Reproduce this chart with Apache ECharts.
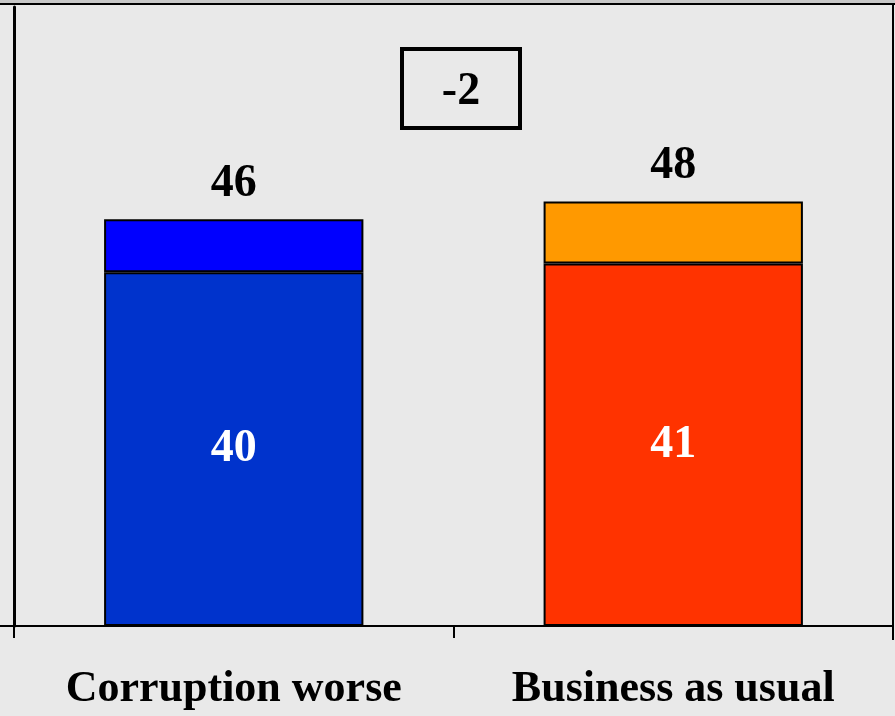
<!DOCTYPE html>
<html>
<head>
<meta charset="utf-8">
<script src="https://cdn.jsdelivr.net/npm/echarts@6/dist/echarts.min.js"></script>
<style>html,body{margin:0;padding:0;background:#e9e9e9;}#c{width:895px;height:716px;}</style>
</head>
<body>
<div id="c"></div>
<script>
var categories = ['Corruption worse', 'Business as usual'];
var baseValues = [40, 41];
var topValues = [6, 7];
var totals = [46, 48];
var baseColors = ['#0033cc', '#ff3300'];
var topColors = ['#0000ff', '#ff9900'];
var differenceLabel = '-2';

var font = '"Liberation Serif", "Times New Roman", serif';
var chart = echarts.init(document.getElementById('c'));
chart.setOption({
  backgroundColor: '#e9e9e9',
  animation: false,
  grid: {left: 14, right: 2, top: 7, bottom: 90},
  xAxis: {
    type: 'category',
    data: categories,
    axisLine: {lineStyle: {color: '#000', width: 2}},
    axisTick: {show: true, length: 12, lineStyle: {color: '#000', width: 2}},
    axisLabel: {color: '#000', fontFamily: font, fontWeight: 'bold', fontSize: 44, margin: 42}
  },
  yAxis: {
    type: 'value', min: 0, max: 70,
    axisLine: {show: true, lineStyle: {color: '#000', width: 3}},
    axisTick: {show: false}, axisLabel: {show: false}, splitLine: {show: false}
  },
  series: [
    {
      type: 'bar', stack: 's', barWidth: '59%',
      data: baseValues.map(function (v, i) { return {value: v, itemStyle: {color: baseColors[i]}}; }),
      itemStyle: {borderColor: '#000', borderWidth: 2},
      label: {show: true, position: 'inside', color: '#fff', fontFamily: font, fontWeight: 'bold', fontSize: 46}
    },
    {
      type: 'bar', stack: 's', barWidth: '59%',
      data: topValues.map(function (v, i) { return {value: v, itemStyle: {color: topColors[i]}}; }),
      itemStyle: {borderColor: '#000', borderWidth: 2},
      label: {show: true, position: 'top', distance: 12, color: '#000', fontFamily: font, fontWeight: 'bold', fontSize: 46,
        formatter: function (p) { return String(totals[p.dataIndex]); }}
    }
  ],
  graphic: [
    {type: 'rect', shape: {x: 0, y: 0, width: 895, height: 3}, style: {fill: '#c8c8c8'}, silent: true},
    {type: 'line', shape: {x1: 0, y1: 4, x2: 895, y2: 4}, style: {stroke: '#000', lineWidth: 2}, silent: true},
    {type: 'line', shape: {x1: 893, y1: 4, x2: 893, y2: 640}, style: {stroke: '#000', lineWidth: 2}, silent: true},
    {type: 'line', shape: {x1: 0, y1: 626, x2: 14, y2: 626}, style: {stroke: '#000', lineWidth: 2}, silent: true},
    {type: 'rect', shape: {x: 402, y: 49, width: 118, height: 79}, style: {fill: 'transparent', stroke: '#000', lineWidth: 4}, silent: true},
    {type: 'text', x: 461, y: 92, style: {text: differenceLabel, fill: '#000', font: 'bold 46px ' + font, align: 'center', verticalAlign: 'middle'}, silent: true}
  ]
});
</script>
</body>
</html>
